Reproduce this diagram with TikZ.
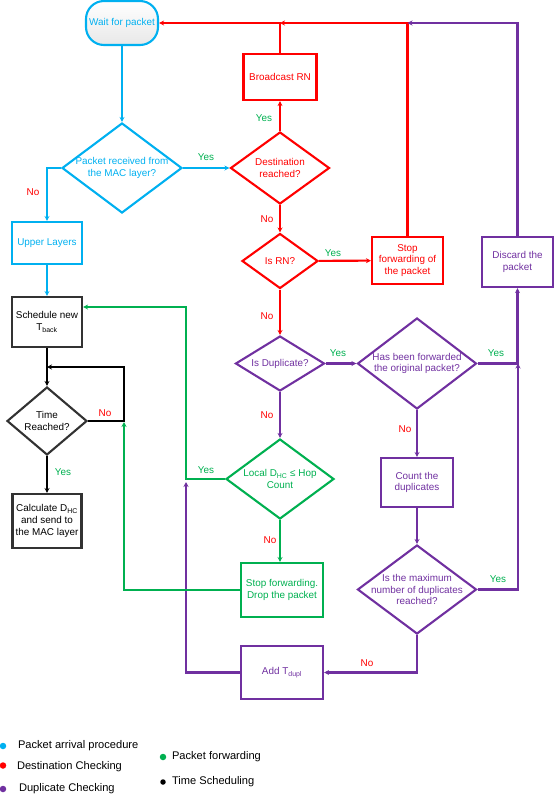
\documentclass[tikz,border=0pt]{standalone}
\usepackage{fontspec}
\setmainfont{Liberation Sans}
\usetikzlibrary{shapes.geometric,arrows.meta}
\definecolor{ccyan}{RGB}{0,176,240}
\definecolor{cred}{RGB}{255,0,0}
\definecolor{cgreen}{RGB}{0,176,80}
\definecolor{cpurple}{RGB}{112,48,160}
\definecolor{cblack}{RGB}{50,50,50}
\begin{document}
\begin{tikzpicture}[x=1pt,y=-1pt,
  font=\fontsize{9.9}{11.6}\selectfont,
  line width=2.1pt,
  >={Stealth[length=5pt,width=5pt]},
  box/.style={draw,rectangle,inner sep=0pt,align=center},
  dia/.style={draw,diamond,inner sep=0pt},
  ylab/.style={text=cgreen,inner sep=0pt},
  nlab/.style={text=cred,inner sep=0pt},
  leg/.style={anchor=west,inner sep=0pt,font=\fontsize{11.1}{13}\selectfont},
  dot/.style={circle,fill,inner sep=0pt,minimum size=6.5pt}]
\useasboundingbox (0,0) rectangle (554,796);

% ---------- nodes ----------
\node[box,draw=ccyan,text=ccyan,rounded corners=18pt,minimum width=72pt,minimum height=44pt,
  top color=white,bottom color=gray!18] (wait) at (122,23) {Wait for packet};
\node[dia,draw=ccyan,minimum width=120pt,minimum height=90pt,
  label={[text=ccyan,align=center]center:Packet received from\\the MAC layer?}] (recv) at (122,168) {};
\node[box,draw=ccyan,text=ccyan,minimum width=70pt,minimum height=42pt] (upper) at (47,243) {Upper Layers};
\node[box,draw=cblack,text=black,minimum width=70pt,minimum height=50pt] (sched) at (47,322) {Schedule new\\T\textsubscript{back}};
\node[dia,draw=cblack,minimum width=80pt,minimum height=68pt,
  label={[text=black,align=center]center:Time\\Reached?}] (time) at (47,421) {};
\node[box,draw=cblack,text=black,minimum width=69pt,minimum height=54pt] (calc) at (47,521) {Calculate D\textsubscript{HC}\\and send to\\the MAC layer};

\node[dia,draw=cred,minimum width=99pt,minimum height=72pt,
  label={[text=cred,align=center]center:Destination\\reached?}] (dest) at (280,168) {};
\node[box,draw=cred,text=cred,minimum width=73pt,minimum height=46pt] (bcast) at (280,77) {Broadcast RN};
\node[dia,draw=cred,minimum width=76pt,minimum height=55pt,
  label={[text=cred,align=center]center:Is RN?}] (isrn) at (280,261) {};
\node[box,draw=cred,text=cred,minimum width=71pt,minimum height=47pt] (stop) at (407.5,260.5) {Stop\\forwarding of\\the packet};
\node[box,draw=cpurple,text=cpurple,minimum width=71pt,minimum height=50pt] (discard) at (517.5,262) {Discard the\\packet};

\node[dia,draw=cpurple,minimum width=89pt,minimum height=55pt,
  label={[text=cpurple,align=center]center:Is Duplicate?}] (isdup) at (280,363.5) {};
\node[dia,draw=cpurple,minimum width=119pt,minimum height=91pt,
  label={[text=cpurple,align=center]center:Has been forwarded\\the original packet?}] (hasfw) at (417,363.5) {};
\node[box,draw=cpurple,text=cpurple,minimum width=72pt,minimum height=49pt] (count) at (417,482.5) {Count the\\duplicates};
\node[dia,draw=cpurple,minimum width=119pt,minimum height=89pt,
  label={[text=cpurple,align=center]center:Is the maximum\\number of duplicates\\reached?}] (maxdup) at (417,589.5) {};
\node[box,draw=cpurple,text=cpurple,minimum width=82pt,minimum height=53pt] (add) at (282,672.5) {Add T\textsubscript{dupl}};

\node[dia,draw=cgreen,minimum width=108pt,minimum height=80pt,
  label={[text=cgreen,align=center]center:Local D\textsubscript{HC} ≤ Hop\\Count}] (local) at (280,479) {};
\node[box,draw=cgreen,text=cgreen,minimum width=82pt,minimum height=54pt] (drop) at (282,590) {Stop forwarding.\\Drop the packet};

% ---------- helper coordinates ----------
\coordinate (topA) at (bcast.north |- wait.east);
\coordinate (topB) at (stop.north |- wait.east);
\coordinate (gx) at (186,479);
\coordinate (gtop) at (186,307);
\coordinate (pend) at (186,482);
\coordinate (loopR) at (124,421);
\coordinate (loopT) at (124,367);
\coordinate (loopL) at (47,367);
\coordinate (jn) at (518,363.5);
\coordinate (gend) at (124,422);

% ---------- connectors ----------
\draw[->,ccyan] (wait) -- (recv);
\draw[->,ccyan] (recv.west) -| (upper.north);
\draw[->,ccyan] (recv.east) -- (dest.west);
\draw[->,ccyan] (upper) -- (sched);

\draw[->,cred] (dest) -- (bcast);
\draw[->,cred] (bcast.north) |- (wait.east);
\draw[->,cred] (dest) -- (isrn);
\draw[->,cred] (isrn) -- (stop);
\draw[->,cred] (stop.north) |- (topA);
\draw[->,cred] (isrn) -- (isdup);

\draw[->,cpurple] (discard.north) |- (topB);
\draw[->,cpurple] (isdup) -- (hasfw);
\draw[->,cpurple] (isdup) -- (local);
\draw[->,cpurple] (hasfw.east) -| (discard.south);
\draw[->,cpurple] (hasfw) -- (count);
\draw[->,cpurple] (count) -- (maxdup);
\draw[->,cpurple] (maxdup.east) -| (jn);
\draw[->,cpurple] (maxdup.south) |- (add.east);
\draw[->,cpurple] (add.west) -| (pend);

\draw[->,cgreen] (local.west) -- (gx) -- (gtop) -- (sched.east |- gtop);
\draw[->,cgreen] (local.south) -- (local.south |- drop.north);
\draw[->,cgreen] (drop.west) -| (gend);

\draw[->,black] (sched) -- (time);
\draw[->,black] (time.east) -- (loopR) -- (loopT) -- (loopL);
\draw[->,black] (time) -- (calc);

% ---------- branch labels ----------
\node[nlab] (l1) at (33,192) {No};
\node[ylab] (l2) at (206,157) {Yes};
\node[ylab] (l3) at (264,118) {Yes};
\node[nlab] (l4) at (267,219) {No};
\node[ylab] (l5) at (333,253) {Yes};
\node[nlab] (l6) at (267,316) {No};
\node[ylab] (l7) at (338,353) {Yes};
\node[ylab] (l8) at (496,353) {Yes};
\node[nlab] (l9) at (405,429) {No};
\node[nlab] (l10) at (267,415) {No};
\node[ylab] (l11) at (206,470) {Yes};
\node[nlab] (l12) at (270,540) {No};
\node[ylab] (l13) at (498,579) {Yes};
\node[nlab] (l14) at (367,663) {No};
\node[nlab] (l15) at (105,413) {No};
\node[ylab] (l16) at (63,472) {Yes};

% ---------- legend ----------
\node[dot,ccyan] (d1) at (3,746) {};
\node[leg] (t1) at (17,746) {Packet arrival procedure};
\node[dot,cred] (d2) at (3,765.5) {};
\node[leg] (t2) at (16,767) {Destination Checking};
\node[dot,cpurple] (d3) at (3,789) {};
\node[leg] (t3) at (18,789) {Duplicate Checking};
\node[dot,cgreen] (d4) at (163,757) {};
\node[leg] (t4) at (171,757) {Packet forwarding};
\node[dot,black,minimum size=5.5pt] (d5) at (163,782) {};
\node[leg] (t5) at (171,782) {Time Scheduling};
\end{tikzpicture}
\end{document}
